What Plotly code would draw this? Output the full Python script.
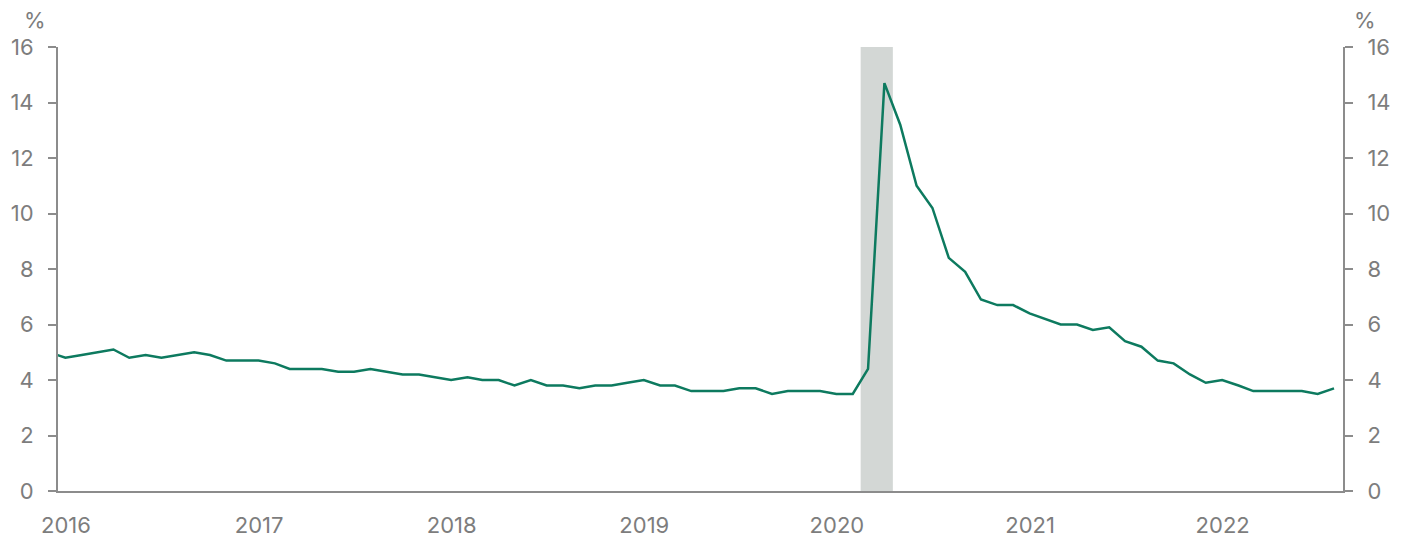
import pandas as pd
import plotly.graph_objects as go

# Monthly unemployment rate, %, Dec 2015 - Aug 2022
first_month = "2015-12"
rate = [
    5.0,
    4.8, 4.9, 5.0, 5.1, 4.8, 4.9, 4.8, 4.9, 5.0, 4.9, 4.7, 4.7,   # 2016
    4.7, 4.6, 4.4, 4.4, 4.4, 4.3, 4.3, 4.4, 4.3, 4.2, 4.2, 4.1,   # 2017
    4.0, 4.1, 4.0, 4.0, 3.8, 4.0, 3.8, 3.8, 3.7, 3.8, 3.8, 3.9,   # 2018
    4.0, 3.8, 3.8, 3.6, 3.6, 3.6, 3.7, 3.7, 3.5, 3.6, 3.6, 3.6,   # 2019
    3.5, 3.5, 4.4, 14.7, 13.2, 11.0, 10.2, 8.4, 7.9, 6.9, 6.7, 6.7,  # 2020
    6.4, 6.2, 6.0, 6.0, 5.8, 5.9, 5.4, 5.2, 4.7, 4.6, 4.2, 3.9,   # 2021
    4.0, 3.8, 3.6, 3.6, 3.6, 3.6, 3.5, 3.7,                       # 2022
]
years = ["2016", "2017", "2018", "2019", "2020", "2021", "2022"]
recession = ["2020-03-01", "2020-05-01"]
x_range = ["2016-01-01", "2022-09-01"]
y_ticks = [0, 2, 4, 6, 8, 10, 12, 14, 16]

months = pd.date_range(first_month + "-01", periods=len(rate), freq="MS") + pd.Timedelta(days=14)

GREEN = "#0d7a5f"
AXIS = "#8c8c8c"
TEXT = "#7d7d7d"
FONT = "Inter"
FS = 22

fig = go.Figure()
fig.add_trace(go.Scatter(
    x=months, y=rate, mode="lines",
    line=dict(color=GREEN, width=2.5),
    hoverinfo="x+y", showlegend=False,
))
fig.add_trace(go.Scatter(
    x=months, y=rate, yaxis="y2", mode="lines",
    line=dict(color="rgba(0,0,0,0)", width=0),
    hoverinfo="skip", showlegend=False,
))

fig.add_shape(
    type="rect", xref="x", yref="paper",
    x0=recession[0], x1=recession[1], y0=0, y1=1,
    fillcolor="#d3d7d5", line=dict(width=0), layer="below",
)

axis_common = dict(
    range=[0, 16], tickvals=y_ticks, showgrid=False, zeroline=False,
    showline=True, linecolor=AXIS, linewidth=2,
    ticks="outside", ticklen=8, tickwidth=2, tickcolor=AXIS,
    tickfont=dict(family=FONT, size=FS, color=TEXT),
    ticklabelstandoff=10, fixedrange=True, automargin=False,
)

fig.update_layout(
    width=1408, height=540,
    margin=dict(l=58, r=65, t=47, b=49, autoexpand=False),
    paper_bgcolor="white", plot_bgcolor="white",
    font=dict(family=FONT, color=TEXT),
    xaxis=dict(
        type="date", range=x_range,
        tickvals=[y + "-01-16" for y in years], ticktext=years,
        showgrid=False, zeroline=False,
        showline=True, linecolor=AXIS, linewidth=2,
        ticks="", tickfont=dict(family=FONT, size=FS, color=TEXT),
        ticklabelstandoff=14, automargin=False, fixedrange=True,
    ),
    yaxis=dict(side="left", **axis_common),
    yaxis2=dict(side="right", overlaying="y", **axis_common),
    annotations=[
        dict(text="%", xref="paper", yref="paper", x=0, y=1, xshift=-36, yshift=27,
             yanchor="middle", showarrow=False, font=dict(family=FONT, size=FS, color=TEXT)),
        dict(text="%", xref="paper", yref="paper", x=1, y=1, xshift=35, yshift=27,
             yanchor="middle", showarrow=False, font=dict(family=FONT, size=FS, color=TEXT)),
    ],
)

fig.write_html(
    "out.html",
    config={"displayModeBar": False},
    post_script="document.body.style.margin='0';document.body.style.overflow='hidden';",
)
